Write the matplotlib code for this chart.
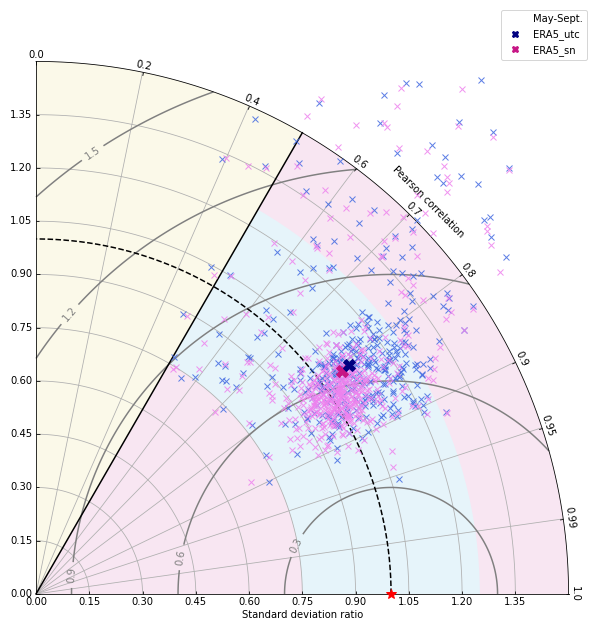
import numpy as np
import matplotlib
matplotlib.use('Agg')
import matplotlib.pyplot as plt
from matplotlib.projections import PolarAxes
from matplotlib.patches import Wedge
import mpl_toolkits.axisartist.floating_axes as FA
import mpl_toolkits.axisartist.grid_finder as GF

# 图轴刻度
corr_ticks = [0.0, 0.2, 0.4, 0.6, 0.7, 0.8, 0.9, 0.95, 0.99, 1.0]
std_ticks = [0.0, 0.15, 0.30, 0.45, 0.60, 0.75, 0.90, 1.05, 1.20, 1.35]
std_max = 1.5
ref_std = 1.0
rms_levels = [0.3, 0.6, 0.9, 1.2, 1.5]
# 背景区域阈值
good_corr = 0.5
good_std_low = 0.75
good_std_high = 1.25

# ERA5_utc 各站点 (标准差比, 相关系数)
utc_std = [
    1.915, 1.777, 1.797, 1.714, 1.596, 1.643, 1.786, 1.829, 1.687, 1.605,
    1.686, 1.490, 1.793, 1.630, 1.630, 1.680, 1.698, 1.366, 1.425, 1.373,
    1.441, 1.663, 1.643, 1.629, 1.504, 1.386, 1.476, 1.428, 1.268, 1.301,
    1.628, 1.398, 1.435, 1.474, 1.387, 1.441, 1.400, 1.309, 1.245, 1.473,
    1.333, 1.368, 1.471, 1.422, 1.178, 1.173, 1.205, 1.045, 1.052, 0.891,
    0.896, 0.955, 0.773, 0.732, 0.758, 0.829, 0.834, 0.896, 0.853, 0.804,
    0.811, 0.799, 0.741, 0.772, 0.757, 0.728, 0.849, 0.834, 1.073, 1.417,
    1.303, 1.313, 1.355, 1.371, 1.389, 1.412, 1.329, 1.353, 1.342, 1.405,
    1.410, 1.306, 1.289, 1.248, 1.340, 1.270, 1.292, 1.268, 1.280, 1.249,
    1.195, 1.234, 1.264, 1.190, 1.213, 1.207, 1.144, 1.126, 1.154, 1.100,
    1.075, 1.365, 1.430, 1.235, 1.262, 1.161, 1.069, 1.030, 1.023, 0.976,
    0.960, 0.898, 0.903, 0.876, 0.908, 0.928, 0.942, 0.935, 0.910,
    1.054, 1.108, 0.982, 1.146, 1.021, 1.089, 0.953, 1.187, 1.000, 1.125,
    1.068, 0.932, 1.206, 1.031, 1.169, 0.973, 1.097, 1.240, 1.015, 0.914,
    1.132, 1.076, 0.991, 1.229, 1.043, 1.157, 0.960, 1.115, 1.274, 0.898,
    1.056, 1.171, 1.009, 1.093, 0.947, 1.190, 1.025, 1.134, 0.928, 1.082,
    1.251, 0.989, 1.213, 1.067, 0.950, 1.165, 1.034, 1.308, 0.882, 1.116,
    1.019, 1.143, 0.977, 1.230, 1.075, 0.934, 1.188, 1.042, 1.286, 0.991,
    1.103, 0.907, 1.200, 1.055, 1.154, 0.968, 1.122, 1.266, 1.021, 1.089,
    0.947, 1.170, 1.005, 1.224, 1.098, 0.872, 1.136, 1.041, 1.199, 0.983,
    1.083, 1.127, 1.041, 1.169, 1.012, 1.096, 1.204, 1.058, 0.987, 1.142,
    1.071, 1.231, 1.019, 1.104, 0.962, 1.158, 1.047, 1.089, 1.183, 1.026,
    1.116, 0.998, 1.067, 1.212, 1.034, 1.151, 1.078, 0.975, 1.136, 1.053,
    1.192, 1.009, 1.097, 1.247, 1.062, 1.121, 0.983, 1.174, 1.038, 1.108,
    1.016, 1.163, 1.074, 1.226, 1.049, 0.994, 1.131, 1.087, 1.199, 1.023,
    1.146, 1.061, 0.968, 1.113, 1.258, 1.042, 1.179, 1.092, 1.005, 1.138,
    1.069, 1.217, 1.031, 1.154, 0.979, 1.101, 1.188, 1.056, 1.124, 1.013,
    1.237, 1.079, 1.148, 0.991, 1.066, 1.207, 1.037, 1.119, 1.084, 0.956,
    1.172, 1.051, 1.133, 1.002, 1.094, 1.243, 1.027, 1.161, 1.072, 1.196,
    1.045, 0.985, 1.111, 1.186, 1.059, 1.222, 1.018, 1.143, 1.081, 0.971,
    1.128, 1.064, 1.253, 1.035, 1.166, 1.098, 0.997, 1.139, 1.076, 1.209,
    1.022, 1.157, 1.088, 1.011, 1.194, 1.048, 1.118, 0.965, 1.177, 1.057,
    1.064, 1.068, 0.952, 1.124, 0.992, 1.192, 0.936, 1.100, 1.092, 1.220,
    0.964, 1.252, 1.188, 1.068, 0.936, 1.176, 1.220, 1.212, 1.124, 1.284,
    1.184, 1.248, 1.112, 1.204, 1.276, 1.220, 1.192, 0.968, 1.164, 1.216,
    1.192, 1.216, 1.260, 1.192, 0.996, 1.128, 1.008, 1.140, 1.164, 1.028,
]
utc_corr = [
    0.655, 0.586, 0.600, 0.572, 0.499, 0.590, 0.667, 0.703, 0.661, 0.634,
    0.683, 0.574, 0.743, 0.693, 0.704, 0.713, 0.733, 0.557, 0.625, 0.599,
    0.661, 0.769, 0.768, 0.787, 0.713, 0.657, 0.718, 0.708, 0.615, 0.645,
    0.813, 0.800, 0.807, 0.835, 0.711, 0.735, 0.736, 0.691, 0.672, 0.419,
    0.393, 0.472, 0.498, 0.521, 0.576, 0.634, 0.647, 0.472, 0.520, 0.465,
    0.576, 0.652, 0.503, 0.557, 0.591, 0.619, 0.638, 0.667, 0.683, 0.666,
    0.694, 0.656, 0.711, 0.788, 0.856, 0.901, 0.826, 0.882, 0.953, 0.851,
    0.821, 0.719, 0.742, 0.752, 0.765, 0.768, 0.750, 0.779, 0.789, 0.816,
    0.823, 0.805, 0.806, 0.806, 0.847, 0.836, 0.859, 0.860, 0.867, 0.870,
    0.858, 0.892, 0.914, 0.892, 0.899, 0.905, 0.892, 0.885, 0.872, 0.889,
    0.894, 0.716, 0.813, 0.668, 0.627, 0.670, 0.670, 0.629, 0.653, 0.658,
    0.710, 0.671, 0.736, 0.743, 0.767, 0.914, 0.900, 0.886, 0.839,
    0.827, 0.813, 0.835, 0.791, 0.859, 0.842, 0.816, 0.820, 0.798, 0.864,
    0.783, 0.855, 0.801, 0.839, 0.842, 0.876, 0.770, 0.838, 0.814, 0.827,
    0.825, 0.861, 0.859, 0.782, 0.806, 0.870, 0.798, 0.844, 0.817, 0.863,
    0.881, 0.769, 0.832, 0.806, 0.880, 0.858, 0.774, 0.897, 0.783, 0.825,
    0.869, 0.802, 0.756, 0.840, 0.848, 0.814, 0.877, 0.793, 0.805, 0.781,
    0.902, 0.856, 0.760, 0.848, 0.794, 0.837, 0.883, 0.755, 0.771, 0.889,
    0.836, 0.840, 0.828, 0.854, 0.787, 0.863, 0.805, 0.801, 0.829, 0.872,
    0.800, 0.838, 0.864, 0.877, 0.743, 0.835, 0.761, 0.899, 0.792, 0.786,
    0.789, 0.790, 0.867, 0.840, 0.810, 0.864, 0.854, 0.807, 0.813, 0.821,
    0.801, 0.818, 0.813, 0.807, 0.854, 0.825, 0.803, 0.859, 0.794, 0.846,
    0.844, 0.814, 0.868, 0.850, 0.785, 0.833, 0.795, 0.872, 0.824, 0.819,
    0.834, 0.798, 0.782, 0.856, 0.839, 0.781, 0.803, 0.837, 0.783, 0.874,
    0.861, 0.803, 0.778, 0.823, 0.800, 0.809, 0.796, 0.792, 0.781, 0.854,
    0.857, 0.789, 0.855, 0.861, 0.826, 0.807, 0.857, 0.805, 0.841, 0.822,
    0.784, 0.813, 0.819, 0.835, 0.870, 0.825, 0.833, 0.797, 0.806, 0.847,
    0.828, 0.834, 0.815, 0.856, 0.803, 0.823, 0.786, 0.792, 0.820, 0.777,
    0.859, 0.785, 0.802, 0.776, 0.868, 0.860, 0.796, 0.785, 0.830, 0.834,
    0.839, 0.821, 0.797, 0.869, 0.864, 0.829, 0.868, 0.778, 0.856, 0.871,
    0.819, 0.803, 0.856, 0.784, 0.850, 0.841, 0.834, 0.808, 0.819, 0.836,
    0.803, 0.822, 0.831, 0.823, 0.798, 0.812, 0.861, 0.853, 0.806, 0.840,
    0.862, 0.788, 0.830, 0.872, 0.865, 0.855, 0.882, 0.861, 0.890, 0.833,
    0.864, 0.824, 0.808, 0.781, 0.767, 0.882, 0.792, 0.852, 0.892, 0.799,
    0.767, 0.795, 0.813, 0.774, 0.813, 0.768, 0.799, 0.767, 0.841, 0.768,
    0.896, 0.892, 0.831, 0.890, 0.802, 0.782, 0.886, 0.883, 0.760, 0.777,
]

# ERA5_sn 各站点 (标准差比, 相关系数)
sn_std = [
    1.861, 1.757, 1.609, 1.710, 1.548, 1.650, 1.646, 1.599, 1.774, 1.820,
    1.520, 1.664, 1.620, 1.666, 1.790, 1.650, 1.641, 1.619, 1.554, 1.399,
    1.394, 1.459, 1.427, 1.638, 1.632, 1.615, 1.534, 1.344, 1.482, 1.472,
    1.424, 1.511, 1.258, 1.340, 1.591, 1.430, 1.470, 1.361, 1.434, 1.267,
    1.339, 1.345, 1.365, 1.412, 1.352, 1.195, 1.183, 1.029, 1.050, 0.891,
    0.986, 0.939, 0.851, 0.751, 0.742, 0.783, 0.838, 0.890, 0.884, 0.845,
    0.789, 0.811, 0.719, 0.770, 0.683, 0.828, 0.888, 0.761, 1.068, 1.396,
    1.360, 1.375, 1.373, 1.338, 1.335, 1.369, 1.413, 1.391, 1.417, 1.281,
    1.276, 1.251, 1.334, 1.248, 1.306, 1.288, 1.261, 1.270, 1.193, 1.233,
    1.265, 1.200, 1.213, 1.140, 1.192, 1.152, 1.051, 1.109, 1.255, 1.165,
    1.128, 1.231, 1.074, 1.018, 0.973, 0.980, 0.922, 0.927, 0.866, 0.891,
    0.917, 0.907,
    0.973, 1.027, 0.941, 1.058, 0.994, 0.916, 1.082, 0.969, 1.015, 0.930,
    1.047, 0.981, 0.898, 1.104, 0.956, 1.032, 0.929, 1.005, 1.070, 0.973,
    0.881, 1.128, 0.944, 1.066, 0.992, 0.909, 1.015, 1.090, 0.963, 1.037,
    0.868, 1.144, 0.936, 1.002, 1.059, 0.985, 0.910, 1.113, 0.957, 1.021,
    0.874, 1.166, 0.972, 1.089, 0.925, 1.040, 0.993, 0.947, 1.131, 1.068,
    0.896, 1.012, 0.969, 1.075, 0.930, 1.183, 0.987, 1.031, 0.908, 1.104,
    0.852, 1.159, 0.955, 1.000, 1.043, 0.977, 1.091, 0.928, 1.064, 0.886,
    1.019, 0.965, 1.120, 0.943, 1.037, 0.991, 1.178, 0.914, 1.056, 0.982,
    0.875, 1.020, 1.133, 0.957, 1.081, 0.938, 1.004, 1.206, 0.902, 1.049,
    1.220, 1.193, 1.257, 0.841, 0.838, 1.114, 1.156, 0.992, 1.079, 0.945,
    1.031, 0.987, 1.064, 1.012, 0.953, 1.098, 1.043, 0.976, 1.021, 1.072,
    0.998, 1.056, 0.941, 1.117, 1.008, 1.035, 0.969, 1.083, 1.027, 0.992,
    1.049, 1.004, 0.962, 1.091, 1.038, 0.981, 1.067, 1.015, 0.934, 1.124,
    1.052, 0.995, 1.029, 1.076, 0.958, 1.041, 1.009, 1.103, 0.973, 1.061,
    1.018, 0.947, 1.087, 1.033, 0.989, 1.058, 1.002, 1.139, 0.966, 1.045,
    1.024, 0.979, 1.071, 1.011, 0.952, 1.095, 1.037, 0.985, 1.063, 1.006,
    0.928, 1.112, 1.047, 0.996, 1.026, 1.081, 0.961, 1.039, 1.014, 1.068,
    0.991, 1.053, 0.944, 1.107, 1.001, 1.034, 0.971, 1.089, 1.022, 0.983,
    1.057, 1.008, 0.956, 1.128, 1.042, 0.977, 1.074, 1.017, 0.938, 1.099,
    1.048, 0.993, 1.031, 1.066, 0.964, 1.044, 1.011, 1.084, 0.969, 1.059,
    1.019, 0.951, 1.093, 1.036, 0.988, 1.062, 1.003, 1.151, 0.975, 1.046,
    1.027, 0.982, 1.078, 1.013, 0.945, 1.102, 1.039, 0.997, 1.069, 1.005,
    0.921, 1.119, 1.051, 0.990, 1.028, 1.085, 0.959, 1.037, 1.016, 1.073,
    0.994, 1.055, 0.948, 1.111, 1.007, 1.032, 0.968, 1.094, 1.023, 0.986,
    1.061, 1.009, 0.954, 1.133, 1.044, 0.972, 1.077, 1.019, 0.936, 1.096,
    1.050, 0.999, 1.030, 1.070, 0.963, 1.047, 1.012, 1.088, 0.974, 1.057,
    1.021, 0.957, 1.086, 1.034, 0.984, 1.065, 1.001, 1.145, 0.970, 1.043,
    1.025, 0.980, 1.079, 1.014, 0.949, 1.106, 1.040, 0.992, 1.067, 1.004,
    0.931, 1.115, 1.053, 0.995, 1.029, 1.082, 0.965, 1.038, 1.010, 1.075,
    0.990, 1.054, 0.943, 1.109, 1.006, 1.036, 0.967, 1.092, 1.024, 0.985,
    1.099, 1.137, 1.134, 1.137, 1.144, 1.057, 0.864, 1.032, 0.973, 0.976,
    0.857, 1.155, 1.015, 0.896, 1.032, 1.081, 0.934, 1.190, 1.113, 1.102,
    1.015, 0.882, 0.976, 1.197, 1.183, 1.183, 1.109, 1.186, 1.092, 1.085,
    1.067, 1.120, 0.934, 0.875, 1.081, 0.955, 0.973, 0.973, 1.015, 1.057,
    1.008, 1.099, 0.983, 0.924, 1.123, 1.032, 1.029, 1.081, 0.997, 1.109,
    0.945, 1.011, 1.071, 1.169, 1.176, 0.920, 0.861, 0.868, 1.197, 0.924,
]
sn_corr = [
    0.645, 0.585, 0.499, 0.595, 0.493, 0.594, 0.601, 0.564, 0.670, 0.707,
    0.560, 0.662, 0.631, 0.690, 0.745, 0.702, 0.709, 0.715, 0.691, 0.582,
    0.626, 0.676, 0.659, 0.775, 0.779, 0.794, 0.714, 0.616, 0.698, 0.721,
    0.711, 0.740, 0.627, 0.660, 0.822, 0.812, 0.838, 0.716, 0.748, 0.651,
    0.400, 0.444, 0.475, 0.521, 0.556, 0.561, 0.609, 0.487, 0.523, 0.477,
    0.600, 0.564, 0.556, 0.525, 0.520, 0.586, 0.635, 0.678, 0.672, 0.687,
    0.682, 0.705, 0.701, 0.780, 0.887, 0.871, 0.885, 0.862, 0.942, 0.702,
    0.714, 0.762, 0.773, 0.777, 0.770, 0.796, 0.827, 0.830, 0.851, 0.809,
    0.821, 0.820, 0.853, 0.828, 0.861, 0.870, 0.876, 0.880, 0.853, 0.895,
    0.915, 0.897, 0.908, 0.895, 0.872, 0.878, 0.887, 0.879, 0.630, 0.651,
    0.660, 0.670, 0.674, 0.642, 0.651, 0.707, 0.715, 0.726, 0.757, 0.797,
    0.876, 0.829,
    0.846, 0.832, 0.859, 0.824, 0.860, 0.837, 0.843, 0.818, 0.871, 0.875,
    0.852, 0.829, 0.854, 0.820, 0.837, 0.803, 0.808, 0.841, 0.865, 0.886,
    0.829, 0.844, 0.790, 0.797, 0.803, 0.878, 0.891, 0.815, 0.866, 0.872,
    0.844, 0.800, 0.827, 0.813, 0.888, 0.851, 0.895, 0.866, 0.782, 0.789,
    0.800, 0.837, 0.903, 0.898, 0.841, 0.835, 0.836, 0.882, 0.789, 0.844,
    0.787, 0.853, 0.848, 0.821, 0.865, 0.816, 0.792, 0.859, 0.814, 0.870,
    0.873, 0.858, 0.801, 0.865, 0.816, 0.832, 0.789, 0.774, 0.900, 0.897,
    0.828, 0.871, 0.895, 0.846, 0.842, 0.889, 0.874, 0.860, 0.777, 0.763,
    0.861, 0.905, 0.836, 0.852, 0.809, 0.904, 0.790, 0.847, 0.843, 0.868,
    0.805, 0.776, 0.832, 0.819, 0.854, 0.750, 0.767, 0.913, 0.928, 0.761,
    0.836, 0.812, 0.847, 0.861, 0.823, 0.829, 0.874, 0.805, 0.842, 0.818,
    0.853, 0.797, 0.838, 0.826, 0.868, 0.811, 0.832, 0.849, 0.789, 0.857,
    0.821, 0.843, 0.816, 0.834, 0.879, 0.802, 0.851, 0.827, 0.839, 0.814,
    0.866, 0.831, 0.794, 0.846, 0.824, 0.858, 0.809, 0.837, 0.872, 0.819,
    0.841, 0.828, 0.855, 0.799, 0.833, 0.864, 0.817, 0.845, 0.822, 0.785,
    0.852, 0.835, 0.808, 0.869, 0.826, 0.840, 0.813, 0.848, 0.831, 0.876,
    0.804, 0.838, 0.856, 0.820, 0.843, 0.798, 0.862, 0.829, 0.815, 0.850,
    0.834, 0.871, 0.806, 0.839, 0.825, 0.854, 0.792, 0.844, 0.830, 0.818,
    0.859, 0.837, 0.811, 0.847, 0.883, 0.823, 0.835, 0.801, 0.865, 0.832,
    0.816, 0.849, 0.827, 0.857, 0.807, 0.841, 0.870, 0.821, 0.836, 0.795,
    0.853, 0.830, 0.814, 0.863, 0.842, 0.819, 0.846, 0.803, 0.834, 0.858,
    0.825, 0.877, 0.810, 0.840, 0.828, 0.851, 0.787, 0.845, 0.833, 0.868,
    0.817, 0.836, 0.855, 0.800, 0.831, 0.862, 0.822, 0.848, 0.813, 0.838,
    0.873, 0.826, 0.844, 0.808, 0.856, 0.829, 0.796, 0.851, 0.835, 0.820,
    0.842, 0.867, 0.815, 0.839, 0.824, 0.854, 0.805, 0.832, 0.860, 0.818,
    0.847, 0.791, 0.837, 0.826, 0.869, 0.812, 0.843, 0.829, 0.852, 0.803,
    0.833, 0.858, 0.821, 0.845, 0.880, 0.816, 0.838, 0.799, 0.861, 0.828,
    0.814, 0.850, 0.834, 0.866, 0.809, 0.841, 0.823, 0.855, 0.788, 0.846,
    0.830, 0.872, 0.819, 0.836, 0.857, 0.806, 0.844, 0.827, 0.864, 0.811,
    0.849, 0.825, 0.840, 0.797, 0.853, 0.832, 0.817, 0.863, 0.835, 0.822,
    0.770, 0.809, 0.804, 0.761, 0.789, 0.753, 0.824, 0.771, 0.768, 0.860,
    0.858, 0.818, 0.881, 0.750, 0.849, 0.759, 0.797, 0.833, 0.882, 0.776,
    0.822, 0.872, 0.828, 0.764, 0.780, 0.894, 0.792, 0.794, 0.788, 0.810,
    0.887, 0.857, 0.830, 0.846, 0.804, 0.867, 0.888, 0.839, 0.755, 0.840,
    0.752, 0.770, 0.795, 0.830, 0.758, 0.822, 0.873, 0.756, 0.849, 0.828,
    0.770, 0.876, 0.771, 0.854, 0.827, 0.891, 0.773, 0.767, 0.840, 0.891,
]

# 平均值
utc_mean_std, utc_mean_corr = 1.093, 0.807
sn_mean_std, sn_mean_corr = 1.067, 0.808

# 等值线标签位置 (theta, r)
rms_label_pos = [(0.186, 0.745), (0.25, 0.419), (0.51, 0.110),
                 (1.457, 0.797), (1.445, 1.255)]

fig = plt.figure(figsize=(597 / 72, 632 / 72), dpi=72)

tr = PolarAxes.PolarTransform(apply_theta_transforms=False)
tlocs = np.arccos(corr_ticks)
gl1 = GF.FixedLocator(tlocs)
tf1 = GF.DictFormatter(dict(zip(tlocs, map(str, corr_ticks))))
gl2 = GF.FixedLocator(std_ticks)
tf2 = GF.DictFormatter({v: f'{v:.2f}' for v in std_ticks})
ghelper = FA.GridHelperCurveLinear(tr, extremes=(0, np.pi / 2, 0, std_max),
                                   grid_locator1=gl1, tick_formatter1=tf1,
                                   grid_locator2=gl2, tick_formatter2=tf2)
# floating axes 会把数据范围放大 1.02 倍
ax = fig.add_axes([30.7 / 597, 32.7 / 632, 543.2 / 597, 543.2 / 632],
                  axes_class=FA.FloatingAxes, grid_helper=ghelper)

ax.axis["top"].set_axis_direction("bottom")
ax.axis["top"].toggle(ticklabels=True, label=True)
ax.axis["top"].major_ticklabels.set_axis_direction("top")
ax.axis["top"].label.set_axis_direction("top")
ax.axis["top"].label.set_text("Pearson correlation")

ax.axis["left"].set_axis_direction("bottom")
ax.axis["left"].label.set_text("Standard deviation ratio")

ax.axis["right"].set_axis_direction("top")
ax.axis["right"].toggle(ticklabels=True)
ax.axis["right"].major_ticklabels.set_axis_direction("left")

ax.axis["bottom"].set_visible(False)
ax.grid(True)

# 背景区域
a0 = np.degrees(np.arccos(good_corr))
ax.add_patch(Wedge((0, 0), std_max, a0, 90, facecolor='#fbf9e9', edgecolor='none', zorder=0))
ax.add_patch(Wedge((0, 0), std_max, 0, a0, facecolor='#f8e6f2', edgecolor='none', zorder=0))
ax.add_patch(Wedge((0, 0), good_std_high, 0, a0, width=good_std_high - good_std_low,
                   facecolor='#e6f4fa', edgecolor='none', zorder=0))

aux = ax.get_aux_axes(tr)

# RMS 等值线
rs, ts = np.meshgrid(np.linspace(0, std_max, 300), np.linspace(0, np.pi / 2, 300))
rms = np.sqrt(ref_std ** 2 + rs ** 2 - 2 * ref_std * rs * np.cos(ts))
cs = aux.contour(ts, rs, rms, levels=rms_levels, colors='0.5', linewidths=1.5)
aux.clabel(cs, inline=True, fontsize=10, fmt='%.1f', manual=rms_label_pos)

# 参考线
th0 = np.arccos(good_corr)
aux.plot([th0, th0], [0, std_max], 'k-', lw=1.5, zorder=3)
t = np.linspace(0, np.pi / 2, 200)
aux.plot(t, np.full_like(t, ref_std), 'k--', lw=1.5, zorder=3)

# 站点
aux.plot(np.arccos(utc_corr), utc_std, 'x', ls='', color='royalblue', ms=6,
         alpha=0.85, clip_on=False, zorder=4)
aux.plot(np.arccos(sn_corr), sn_std, 'x', ls='', color='violet', ms=6,
         alpha=0.85, clip_on=False, zorder=4)

h0, = aux.plot([], [], ' ', label='May-Sept.')
h1, = aux.plot(np.arccos(utc_mean_corr), utc_mean_std, 'X', ls='', color='navy',
               ms=12, zorder=6, label='ERA5_utc')
h2, = aux.plot(np.arccos(sn_mean_corr), sn_mean_std, 'X', ls='', color='mediumvioletred',
               ms=12, zorder=5, label='ERA5_sn')
aux.plot(0, ref_std, '*', color='red', ms=11, clip_on=False, zorder=7)

fig.legend([h0, h1, h2], ['May-Sept.', 'ERA5_utc', 'ERA5_sn'], loc='upper right',
           bbox_to_anchor=(592 / 597, 1 - 5 / 632), markerscale=0.55, fontsize=10)

fig.savefig('out.png', dpi=72)
